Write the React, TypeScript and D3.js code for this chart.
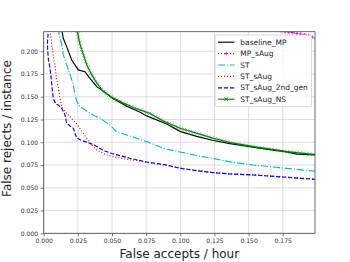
import { useEffect, useRef } from 'react';
import * as d3 from 'd3';

// [false accepts / hour, false rejects / instance]
const baselineMP = [
  [0.013, 0.226], [0.0143, 0.2143], [0.0168, 0.2051], [0.0205, 0.1904], [0.0253, 0.1795],
  [0.0302, 0.1776], [0.0339, 0.1703], [0.0388, 0.1611], [0.0434, 0.1565], [0.0507, 0.148],
  [0.0608, 0.1395], [0.0706, 0.133], [0.0754, 0.129], [0.09, 0.12], [0.0998, 0.112],
  [0.112, 0.1065], [0.1242, 0.102], [0.1364, 0.0985], [0.1534, 0.0945], [0.1657, 0.092],
  [0.1779, 0.0895], [0.1852, 0.087], [0.1986, 0.086],
];
const mpSAug = [
  [0.168, 0.2245], [0.1766, 0.2215], [0.184, 0.2201], [0.1898, 0.2185], [0.1949, 0.2168],
  [0.1986, 0.214],
];
const st = [
  [0.0102, 0.226], [0.0132, 0.2073], [0.0143, 0.1963], [0.0168, 0.1853], [0.0193, 0.1743],
  [0.0217, 0.1633], [0.0229, 0.1523], [0.0244, 0.1443], [0.0266, 0.1391], [0.0339, 0.1319],
  [0.0412, 0.1264], [0.0485, 0.119], [0.0534, 0.1116], [0.0608, 0.108], [0.0681, 0.1044],
  [0.0754, 0.1007], [0.0876, 0.0934], [0.0998, 0.0893], [0.112, 0.0855], [0.1242, 0.082],
  [0.1364, 0.0785], [0.1534, 0.075], [0.1779, 0.0714], [0.1986, 0.0682],
];
const stSAug = [
  [0.0045, 0.226], [0.0059, 0.2073], [0.007, 0.1948], [0.0083, 0.1838], [0.0095, 0.1685],
  [0.0107, 0.1597], [0.0119, 0.1487], [0.0132, 0.1393], [0.0156, 0.1336], [0.0193, 0.1281],
  [0.0242, 0.1201], [0.0278, 0.1124], [0.0315, 0.1044], [0.0351, 0.097], [0.0388, 0.0915],
  [0.0461, 0.086], [0.0534, 0.0833], [0.0608, 0.0813], [0.0681, 0.08], [0.0754, 0.0778],
  [0.0876, 0.0751], [0.0998, 0.0718], [0.112, 0.0692], [0.1242, 0.0668], [0.1364, 0.0654],
  [0.1534, 0.0643], [0.1779, 0.0617], [0.1986, 0.0595],
];
const stSAug2ndGen = [
  [0.0035, 0.226], [0.0028, 0.2102], [0.0029, 0.2014], [0.0035, 0.1903], [0.0046, 0.1816],
  [0.0056, 0.1685], [0.0063, 0.1575], [0.007, 0.1481], [0.009, 0.1421], [0.0107, 0.141],
  [0.0132, 0.1374], [0.0156, 0.13], [0.0168, 0.1209], [0.0193, 0.1179], [0.0217, 0.1154],
  [0.0229, 0.1099], [0.0242, 0.1047], [0.0278, 0.102], [0.0327, 0.0996], [0.0376, 0.0965],
  [0.0436, 0.091], [0.0498, 0.0877], [0.0559, 0.0853], [0.0632, 0.0824], [0.0754, 0.0783],
  [0.09, 0.0751], [0.0998, 0.0714], [0.112, 0.0688], [0.1242, 0.0666], [0.1364, 0.0652],
  [0.1534, 0.0641], [0.1779, 0.0615], [0.1986, 0.0593],
];
const stSAugNS = [
  [0.024, 0.226], [0.0266, 0.2073], [0.029, 0.1963], [0.0315, 0.1853], [0.0351, 0.1743],
  [0.0388, 0.1652], [0.0436, 0.1558], [0.051, 0.1485], [0.0583, 0.1432], [0.0656, 0.1382],
  [0.0778, 0.1316], [0.0876, 0.1234], [0.0998, 0.1154], [0.112, 0.1099], [0.1242, 0.1044],
  [0.1364, 0.0998], [0.1534, 0.0952], [0.1779, 0.0897], [0.1986, 0.0866],
];

const xTicks = [0, 0.025, 0.05, 0.075, 0.1, 0.125, 0.15, 0.175];
const yTicks = [0, 0.025, 0.05, 0.075, 0.1, 0.125, 0.15, 0.175, 0.2];

const series = [
  { name: 'baseline_MP', data: baselineMP, color: '#000000', dash: null, marker: null },
  { name: 'MP_sAug', data: mpSAug, color: '#bf00bf', dash: '1.1,1.9', marker: 'plus' },
  { name: 'ST', data: st, color: '#00bfbf', dash: '7.3,1.8,1.1,1.8', marker: null },
  { name: 'ST_sAug', data: stSAug, color: '#ff0000', dash: '1.1,1.9', marker: null },
  { name: 'ST_sAug_2nd_gen', data: stSAug2ndGen, color: '#0000ff', dash: '4.2,1.8', marker: null },
  { name: 'ST_sAug_NS', data: stSAugNS, color: '#008000', dash: null, marker: 'x' },
];

const W = 350;
const H = 262;
const margin = { top: 31.7, right: 35, bottom: 28.7, left: 43.7 };
const FONT = 'DejaVu Sans, sans-serif';

function drawMarker(g, kind, px, py, color, size) {
  const s = size;
  const segs = kind === 'x'
    ? [[-s, -s, s, s], [-s, s, s, -s]]
    : [[-s, 0, s, 0], [0, -s, 0, s]];
  segs.forEach(([a, b, c, d]) => {
    g.append('line')
      .attr('x1', px + a).attr('y1', py + b)
      .attr('x2', px + c).attr('y2', py + d)
      .attr('stroke', color)
      .attr('stroke-width', 0.8);
  });
}

export default function App() {
  const ref = useRef(null);

  useEffect(() => {
    const svg = d3.select(ref.current);
    svg.selectAll('*').remove();

    const innerW = W - margin.left - margin.right;
    const innerH = H - margin.top - margin.bottom;
    const x = d3.scaleLinear().domain([0, 0.1986]).range([margin.left, margin.left + innerW]);
    const y = d3.scaleLinear().domain([0, 0.2215]).range([margin.top + innerH, margin.top]);

    svg.append('rect').attr('width', W).attr('height', H).attr('fill', '#fff');

    svg.append('defs').append('clipPath').attr('id', 'plot-clip')
      .append('rect')
      .attr('x', margin.left).attr('y', margin.top)
      .attr('width', innerW).attr('height', innerH);

    // grid
    svg.append('g').selectAll('line').data(xTicks).join('line')
      .attr('x1', (d) => x(d)).attr('x2', (d) => x(d))
      .attr('y1', margin.top).attr('y2', margin.top + innerH)
      .attr('stroke', '#d6d6d6').attr('stroke-width', 0.8);
    svg.append('g').selectAll('line').data(yTicks).join('line')
      .attr('y1', (d) => y(d)).attr('y2', (d) => y(d))
      .attr('x1', margin.left).attr('x2', margin.left + innerW)
      .attr('stroke', '#d6d6d6').attr('stroke-width', 0.8);

    const fmt = d3.format('.3f');
    const xAxis = svg.append('g')
      .attr('transform', `translate(0,${margin.top + innerH})`)
      .call(d3.axisBottom(x).tickValues(xTicks).tickFormat(fmt).tickSize(3).tickPadding(2.5));
    const yAxis = svg.append('g')
      .attr('transform', `translate(${margin.left},0)`)
      .call(d3.axisLeft(y).tickValues(yTicks).tickFormat(fmt).tickSize(3).tickPadding(2.5));
    [xAxis, yAxis].forEach((a) => {
      a.select('.domain').remove();
      a.selectAll('line').attr('stroke', '#444').attr('stroke-width', 0.7);
      a.selectAll('text').attr('fill', '#333').style('font-size', '6.1px').style('font-family', FONT);
    });

    const line = d3.line().x((d) => x(d[0])).y((d) => y(d[1]));
    const plot = svg.append('g').attr('clip-path', 'url(#plot-clip)');

    series.forEach((s) => {
      const path = plot.append('path')
        .datum(s.data)
        .attr('d', line)
        .attr('fill', 'none')
        .attr('stroke', s.color)
        .attr('stroke-width', 1.15)
        .attr('stroke-dasharray', s.dash);
      if (s.marker) {
        const node = path.node();
        const len = node.getTotalLength();
        const mg = plot.append('g').attr('opacity', s.marker === 'x' ? 0.55 : 0.9);
        for (let l = 0; l <= len; l += s.marker === 'x' ? 3.2 : 4) {
          const p = node.getPointAtLength(l);
          drawMarker(mg, s.marker, p.x, p.y, s.color, s.marker === 'x' ? 1.6 : 1.8);
        }
      }
    });

    // frame
    svg.append('rect')
      .attr('x', margin.left).attr('y', margin.top)
      .attr('width', innerW).attr('height', innerH)
      .attr('fill', 'none').attr('stroke', '#444').attr('stroke-width', 0.8);

    // axis labels
    svg.append('text')
      .attr('x', margin.left + innerW / 2)
      .attr('y', 258.2)
      .attr('text-anchor', 'middle')
      .style('font-family', FONT).style('font-size', '12px').attr('fill', '#222')
      .text('False accepts / hour');
    svg.append('text')
      .attr('transform', `translate(10.5,${margin.top + innerH / 2 - 4}) rotate(-90)`)
      .attr('text-anchor', 'middle')
      .style('font-family', FONT).style('font-size', '12px').attr('fill', '#222')
      .text('False rejects / instance');

    // legend
    const lg = svg.append('g');
    lg.append('rect')
      .attr('x', 215).attr('y', 35).attr('width', 96.7).attr('height', 71.7)
      .attr('rx', 2).attr('fill', '#fff').attr('fill-opacity', 0.8)
      .attr('stroke', '#cccccc').attr('stroke-width', 0.8);
    series.forEach((s, i) => {
      const cy = 42.2 + i * 11.4;
      lg.append('line')
        .attr('x1', 218).attr('x2', 234.5).attr('y1', cy).attr('y2', cy)
        .attr('stroke', s.color).attr('stroke-width', 1.15)
        .attr('stroke-dasharray', s.dash);
      if (s.marker) drawMarker(lg, s.marker, 226.2, cy, s.color, 1.8);
      lg.append('text')
        .attr('x', 240.3).attr('y', cy).attr('dy', '0.35em')
        .style('font-family', FONT).style('font-size', '7.5px').attr('fill', '#222')
        .text(s.name);
    });
  }, []);

  return (
    <svg
      ref={ref}
      width={W}
      height={H}
      style={{ position: 'absolute', left: 0, top: 0 }}
    />
  );
}
